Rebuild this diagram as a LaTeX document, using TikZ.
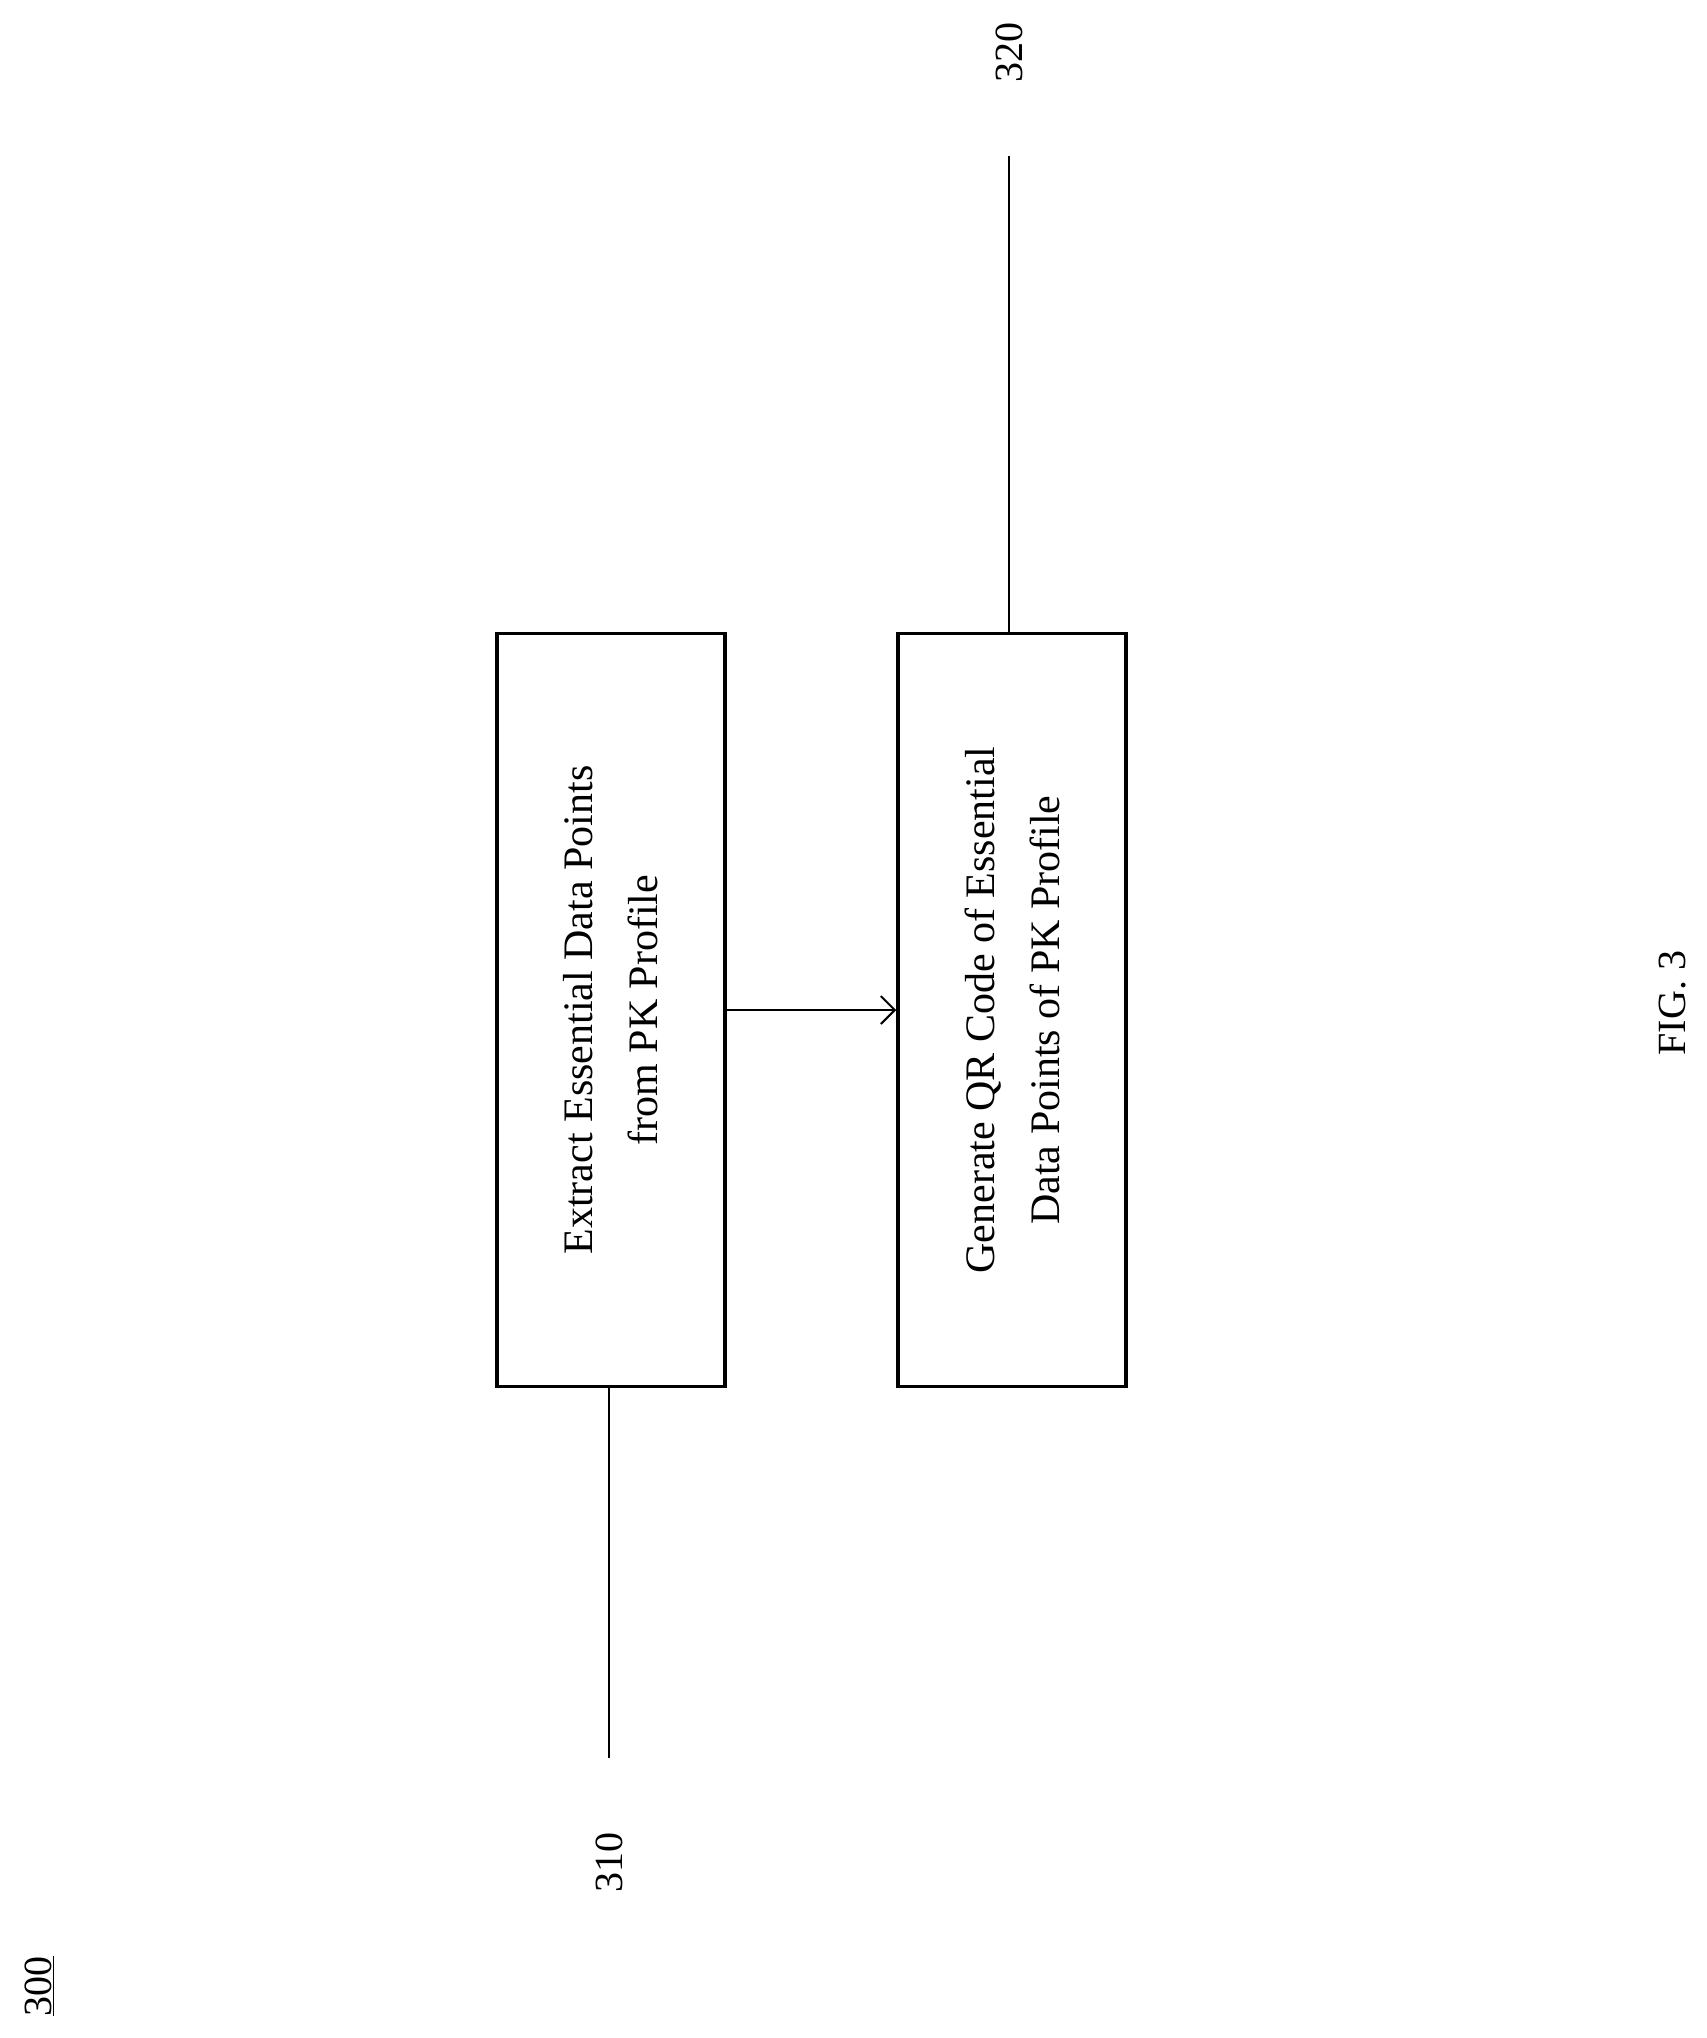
\documentclass[tikz,border=0pt]{standalone}
\usepackage{fontspec}
\setmainfont{Liberation Serif}
\usetikzlibrary{arrows.meta}
\begin{document}
\begin{tikzpicture}[x=1pt,y=-1pt,
  stepbox/.style={draw,line width=3.5pt,minimum width=753pt,minimum height=228pt,align=center,rotate=90,font=\fontsize{42}{65}\selectfont},
  lbl/.style={rotate=90,font=\fontsize{40}{48}\selectfont},
  ln/.style={line width=2pt}]
\useasboundingbox (0,0) rectangle (1706,2038);
\node[stepbox] (b1) at (611,1010) {Extract Essential Data Points\\from PK Profile};
\node[stepbox] (b2) at (1012,1010) {Generate QR Code of Essential\\Data Points of PK Profile};
\draw[ln,-{Straight Barb[length=14pt,width=28pt]}] (b1.south) -- (b2.north);
\coordinate (e1) at (609,1758);
\coordinate (e2) at (1009,156);
\draw[ln] (e1) -- (609,1387);
\draw[ln] (e2) -- (1009,634);
\node[lbl] (l310) at (609,1862) {310};
\node[lbl] (l320) at (1009,52) {320};
\node[lbl] (fig) at (1673,1003) {FIG. 3};
\node[lbl] (n300) at (39,1986) {\underline{300}};
\end{tikzpicture}
\end{document}
